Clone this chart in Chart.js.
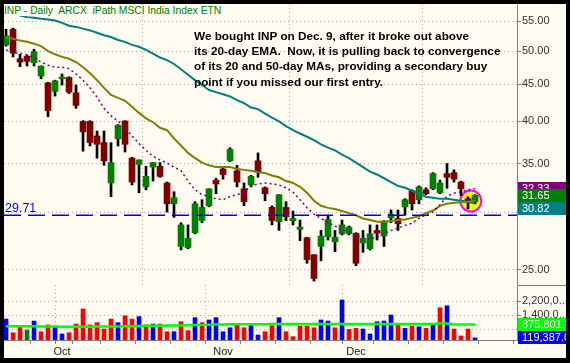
<!DOCTYPE html>
<html>
<head>
<meta charset="utf-8">
<script src="https://cdn.jsdelivr.net/npm/chart.js@4.4.1/dist/chart.umd.min.js"></script>
<style>
  html, body { margin: 0; padding: 0; background: #000; }
  #wrap { position: relative; width: 570px; height: 363px; background: #000; overflow: hidden; }
  canvas { position: absolute; background: #fffbf0; }
  #price { left: 4px; top: 4px; }
  #vol { left: 4px; top: 285px; }
  #title {
    position: absolute; left: 4px; top: 5px; height: 11px; line-height: 12px;
    padding-right: 3px; background: #fffbf0; color: #008000;
    font: 10.3px "Liberation Sans", Arial, sans-serif; white-space: pre;
  }
  #note {
    position: absolute; left: 194px; top: 28px; color: #000;
    font: bold 11.75px/15.2px "Liberation Sans", Arial, sans-serif; white-space: pre;
  }
</style>
</head>
<body>
<div id="wrap">
  <canvas id="price" width="562" height="281"></canvas>
  <canvas id="vol" width="562" height="73"></canvas>
  <div id="title">INP - Daily  ARCX  iPath MSCI India Index ETN</div>
  <div id="note">We bought INP on Dec. 9, after it broke out above
its 20-day EMA.  Now, it is pulling back to convergence
of its 20 and 50-day MAs, providing a secondary buy
point if you missed our first entry.</div>
</div>
<script>
// --- data (one entry per trading day, Sep 19 .. Dec 24) ---
const open  = [51.0, 53.6, 48.8, 49.2, 48.2, 46.2, 45.2, 44.0, 45.8, 46.0,
               43.8, 40.0, 40.0, 38.2, 37.4, 32.9, 37.85, 40.05, 35.6, 34.9,
               32.5, 34.6, 34.7, 32.9, 30.8, 26.9, 26.8, 28.1, 29.2, 30.6,
               33.2, 34.4, 35.3, 34.2, 32.3, 32.7, 35.3, 32.4, 30.45, 29.1,
               30.45, 29.2, 28.4, 27.65, 26.2, 26.9, 27.75, 27.3, 28.0, 28.0,
               28.05, 27.2, 26.7, 28.3, 27.8, 29.45, 29.4, 30.5, 32.1, 31.2,
               32.2, 32.3, 31.9, 33.9, 34.0, 33.0, 31.3, 31.0];
const high  = [53.6, 53.8, 49.5, 49.4, 50.3, 47.7, 45.3, 45.6, 46.5, 46.1,
               44.9, 40.1, 40.1, 38.8, 38.8, 37.4, 39.6, 40.1, 35.7, 35.4,
               34.7, 35.1, 35.1, 33.0, 32.0, 29.0, 28.8, 31.0, 31.2, 32.3,
               33.4, 34.5, 36.8, 34.8, 32.9, 33.7, 36.2, 32.5, 30.6, 31.7,
               31.0, 30.1, 29.25, 27.7, 26.2, 28.3, 29.7, 28.3, 29.25, 28.7,
               28.1, 28.3, 28.8, 28.8, 29.2, 30.2, 30.2, 31.3, 32.2, 32.6,
               32.4, 34.0, 33.2, 35.0, 34.3, 33.1, 31.5, 31.7];
const low   = [50.8, 49.1, 47.6, 47.7, 47.7, 45.8, 40.6, 43.35, 44.9, 43.7,
               41.7, 36.4, 37.0, 35.6, 34.8, 31.5, 37.0, 36.3, 32.7, 31.9,
               32.2, 33.1, 33.5, 30.0, 29.5, 26.6, 26.7, 28.0, 29.0, 30.5,
               31.8, 33.3, 35.2, 32.5, 30.6, 32.5, 33.5, 31.1, 28.8, 28.3,
               29.2, 28.8, 27.4, 25.5, 24.1, 25.7, 27.45, 26.45, 27.9, 27.9,
               25.3, 26.4, 26.6, 27.45, 26.9, 29.0, 28.3, 29.7, 30.2, 30.8,
               31.7, 32.2, 31.8, 32.35, 33.0, 31.6, 30.3, 30.8];
const close = [52.5, 49.7, 48.3, 48.4, 49.9, 47.7, 41.4, 45.5, 46.05, 43.9,
               42.1, 38.7, 37.4, 37.2, 35.3, 35.1, 39.5, 37.2, 33.0, 35.4,
               33.6, 35.1, 33.6, 30.8, 31.4, 28.8, 27.6, 30.8, 30.45, 32.3,
               32.8, 33.8, 36.6, 33.0, 31.0, 33.6, 34.1, 31.8, 29.2, 31.7,
               29.55, 29.4, 28.6, 25.8, 24.3, 27.8, 29.3, 27.7, 28.8, 28.6,
               25.5, 27.6, 28.0, 28.05, 29.15, 29.8, 28.9, 31.2, 30.8, 32.5,
               31.8, 33.9, 32.9, 33.5, 33.3, 32.3, 30.9, 31.65];

// 10-day MA (purple dashed), 20-day EMA (olive), 50-day MA (teal)
const ma10  = [50.2, 49.7, 49.7, 49.4, 49.0, 48.3, 47.8, 47.5, 47.5, 47.3,
               46.5, 45.6, 44.5, 43.2, 41.7, 40.7, 40.05, 39.2, 38.2, 37.3,
               36.5, 35.8, 35.4, 35.05, 34.6, 34.2, 33.1, 32.2, 31.7, 31.5,
               31.3, 31.2, 31.5, 31.7, 31.95, 32.6, 32.8, 32.9, 32.8, 32.7,
               32.4, 31.95, 31.2, 30.4, 29.8, 29.4, 29.0, 28.7, 28.4, 28.15,
               27.9, 27.6, 27.55, 27.7, 28.0, 28.3, 28.5, 28.75, 28.97, 29.4,
               29.75, 30.0, 30.7, 31.55, 31.85, 32.0, 32.2, 32.33];
const ema20 = [52.2, 52.0, 51.7, 51.5, 51.2, 50.8, 50.0, 49.5, 49.1, 48.8,
               48.3, 47.5, 46.6, 45.6, 44.5, 43.5, 43.1, 42.7, 41.9, 41.1,
               40.4, 39.9, 39.2, 38.9, 37.9, 37.05, 36.2, 35.6, 35.1, 34.8,
               34.6, 34.6, 34.6, 34.4, 34.3, 34.2, 34.05, 33.95, 33.7, 33.5,
               33.1, 32.9, 32.5, 31.9, 31.1, 30.6, 30.4, 30.3, 30.1, 29.9,
               29.7, 29.4, 29.25, 29.1, 29.1, 29.15, 29.25, 29.3, 29.45, 29.6,
               29.9, 30.15, 30.6, 30.8, 30.9, 30.95, 31.0, 31.1];
const ma50  = [57.2, 56.6, 56.0, 55.7, 55.6, 55.4, 55.3, 55.1, 54.7, 54.2,
               54.0, 53.7, 53.4, 53.0, 52.6, 52.3, 51.8, 51.5, 51.0, 50.7,
               50.2, 49.6, 49.0, 48.6, 48.0, 47.2, 46.4, 45.6, 44.9, 44.2,
               43.9, 43.6, 43.3, 42.8, 42.4, 41.8, 41.6, 41.0, 40.5, 40.0,
               39.4, 38.9, 38.5, 38.1, 37.7, 37.2, 36.8, 36.5, 36.0, 35.6,
               35.1, 34.6, 34.1, 33.8, 33.4, 33.0, 32.6, 32.4, 32.1, 31.8,
               31.5, 31.4, 31.3, 31.3, 31.2, 31.1, 31.0, 30.82];

const volume = [1180000, 410000, 790000, 560000, 1070000, 470000, 850000, 750000, 340000, 410000,
                900000, 1750000, 850000, 980000, 620000, 1180000, 980000, 1370000, 1180000, 1320000,
                850000, 900000, 900000, 470000, 470000, 1030000, 530000, 1260000, 980000, 1130000,
                1260000, 470000, 690000, 850000, 690000, 810000, 280000, 470000, 810000, 1260000,
                470000, 190000, 790000, 790000, 690000, 1130000, 1070000, 690000, 2260000, 600000,
                660000, 620000, 340000, 1030000, 1070000, 1410000, 900000, 660000, 790000, 750000,
                660000, 900000, 1820000, 1930000, 620000, 230000, 620000, 119387];
// 1 = closed up, -1 = closed down, 0 = unchanged
const volDir = [1, -1, -1, 0, 1, -1, -1, 1, 1, -1,
                -1, -1, -1, -1, -1, -1, 1, -1, -1, 1,
                -1, 1, -1, -1, 1, -1, -1, 1, -1, 1,
                1, 1, 1, -1, -1, 1, 1, -1, -1, 1,
                -1, -1, -1, -1, -1, 1, 1, -1, 1, -1,
                -1, 1, 1, 1, 1, 1, -1, 1, -1, 1,
                -1, 1, -1, 1, -1, -1, -1, 1];
const volAvg = [780000, 780000, 775000, 770000, 770000, 765000, 760000, 755000, 750000, 745000,
                745000, 750000, 750000, 755000, 755000, 760000, 765000, 770000, 780000, 790000,
                800000, 805000, 810000, 815000, 820000, 825000, 830000, 840000, 850000, 860000,
                870000, 880000, 885000, 890000, 890000, 895000, 895000, 895000, 900000, 900000,
                900000, 900000, 900000, 900000, 900000, 900000, 900000, 900000, 905000, 905000,
                900000, 900000, 900000, 900000, 900000, 900000, 900000, 900000, 900000, 900000,
                900000, 900000, 925000, 930000, 890000, 880000, 878000, 875801.7];

const support = 29.71;
const highlight = { x: 66.4, y: 31.07 };

const priceTicks  = [25, 30, 35, 40, 45, 50, 55];
const volumeTicks = [600000, 1400000, 2200000];
const weekTicks   = [1, 6, 11, 16, 21, 26, 31, 36, 41, 46, 50, 55, 60, 65, 70];
const monthTicks  = [8, 31, 50];
const monthLabels = ['Oct', 'Nov', 'Dec'];

// --- shared look ---
const FONT = '"Liberation Sans", Arial, sans-serif';
Chart.defaults.font.family = FONT;
Chart.defaults.font.size = 11;
Chart.defaults.color = '#333';

const xMin = -0.29, xMax = 73;
const priceMin = 23.8, priceMax = 58.07;
const volMax = 3103000;
const AXIS_W = 49;
const GRID = '#a8a8a8';
const AXIS = '#808080';

const pts = arr => arr.map((v, i) => ({ x: i, y: v }));
// keep the plot area flush with the canvas: no label overhang padding
const noPad = s => { s.paddingTop = 0; s.paddingBottom = 0; s.paddingLeft = 0; s.paddingRight = 0; };

// coloured value boxes on the right-hand axis
const sideBoxes = {
  id: 'sideBoxes',
  afterDraw(chart, args, opts) {
    const { ctx, chartArea } = chart;
    const y = chart.scales.y;
    let prevBottom = null;
    ctx.save();
    ctx.beginPath();
    ctx.rect(chartArea.right + 1, 0, chart.width - chartArea.right, chart.height);
    ctx.clip();
    ctx.font = '11px ' + FONT;
    ctx.textBaseline = 'middle';
    opts.boxes.forEach(b => {
      let top = Math.round(y.getPixelForValue(b.value) - 6.5);
      if (b.below && prevBottom !== null && top < prevBottom) top = prevBottom;
      ctx.fillStyle = b.color;
      ctx.fillRect(chartArea.right + 1, top, chart.width - chartArea.right, 13);
      ctx.fillStyle = '#fff';
      ctx.fillText(b.text, chartArea.right + 5, top + 7);
      prevBottom = top + 13;
    });
    ctx.restore();
  }
};

// label for the support line + separator between panels
const extras = {
  id: 'extras',
  afterDatasetsDraw(chart, args, opts) {
    const { ctx, chartArea } = chart;
    ctx.save();
    if (opts.supportLabel) {
      const yy = chart.scales.y.getPixelForValue(support);
      ctx.font = '12.5px ' + FONT;
      ctx.fillStyle = '#0000ee';
      ctx.textBaseline = 'alphabetic';
      ctx.fillText(support.toFixed(2), chartArea.left + 1, yy - 3);
    }
    if (opts.separator) {
      ctx.strokeStyle = AXIS;
      ctx.lineWidth = 1;
      ctx.beginPath();
      ctx.moveTo(chartArea.right, chartArea.top + 0.5);
      ctx.lineTo(chart.width, chartArea.top + 0.5);
      ctx.stroke();
    }
    ctx.restore();
  }
};

// --- price panel ---
new Chart(document.getElementById('price'), {
  type: 'bar',
  data: {
    datasets: [
      { type: 'line', data: [{ x: xMin, y: support }, { x: xMax, y: support }],
        borderColor: '#0000ee', borderWidth: 1.5, borderDash: [17, 7], pointRadius: 0, order: 1 },
      { type: 'line', data: pts(ma10), borderColor: '#800080', borderWidth: 1.5,
        borderDash: [2, 3], pointRadius: 0, order: 2 },
      { type: 'line', data: pts(ema20), borderColor: '#808000', borderWidth: 2, pointRadius: 0, order: 3 },
      { type: 'line', data: pts(ma50), borderColor: '#008080', borderWidth: 2, pointRadius: 0, order: 4 },
      { type: 'bar', data: open.map((o, i) => ({ x: i, y: [o, close[i]] })),
        backgroundColor: open.map((o, i) => close[i] >= o ? '#008000' : '#800000'),
        barThickness: 6, minBarLength: 1, grouped: false, borderWidth: 0, order: 5 },
      { type: 'bar', data: low.map((l, i) => ({ x: i, y: [l, high[i]] })),
        backgroundColor: '#000', barThickness: 2, grouped: false, borderWidth: 0, order: 6 },
      { type: 'line', data: [highlight], showLine: false, pointRadius: 10.5,
        pointBackgroundColor: '#ffff00', pointBorderColor: '#ff00ff', pointBorderWidth: 2, order: 7 }
    ]
  },
  options: {
    responsive: false,
    animation: false,
    layout: { padding: 0, autoPadding: false },
    plugins: {
      legend: { display: false },
      tooltip: { enabled: false },
      extras: { supportLabel: true },
      sideBoxes: {
        boxes: [
          { value: ma10[ma10.length - 1], color: '#800080', text: ma10[ma10.length - 1].toFixed(2) },
          { value: close[close.length - 1], color: '#008000', text: close[close.length - 1].toFixed(2) },
          { value: ma50[ma50.length - 1], color: '#008080', text: ma50[ma50.length - 1].toFixed(2), below: true }
        ]
      }
    },
    scales: {
      x: {
        type: 'linear', min: xMin, max: xMax, offset: false, bounds: 'data',
        afterBuildTicks: s => { s.ticks = monthTicks.map(v => ({ value: v })); },
        afterFit: s => { s.height = 0; noPad(s); },
        ticks: { display: false },
        grid: { color: GRID, drawTicks: false },
        border: { display: false, dash: [1, 3] }
      },
      y: {
        type: 'logarithmic', position: 'right', min: priceMin, max: priceMax, bounds: 'data',
        afterBuildTicks: s => { s.ticks = priceTicks.map(v => ({ value: v })); },
        afterFit: s => { s.width = AXIS_W; noPad(s); },
        ticks: { callback: v => Number(v).toFixed(2), padding: 1, autoSkip: false },
        grid: { color: GRID, tickLength: 4, tickColor: AXIS, tickBorderDash: [] },
        border: { color: AXIS, dash: [1, 3] }
      }
    }
  },
  plugins: [extras, sideBoxes]
});

// --- volume panel ---
const fmtBig = v => Number(v).toLocaleString('en-US');
new Chart(document.getElementById('vol'), {
  type: 'bar',
  data: {
    datasets: [
      { type: 'line', data: pts(volAvg), borderColor: '#00ff00', borderWidth: 2.5, pointRadius: 0, order: 1 },
      { type: 'bar', data: pts(volume),
        backgroundColor: volDir.map(d => d > 0 ? '#0000ff' : d < 0 ? '#ff0000' : '#008000'),
        barThickness: 4, grouped: false, borderWidth: 0, order: 2 }
    ]
  },
  options: {
    responsive: false,
    animation: false,
    layout: { padding: 0, autoPadding: false },
    plugins: {
      legend: { display: false },
      tooltip: { enabled: false },
      extras: { separator: true },
      sideBoxes: {
        boxes: [
          { value: volAvg[volAvg.length - 1], color: '#00ff00',
            text: fmtBig(volAvg[volAvg.length - 1].toFixed(1)) },
          { value: volume[volume.length - 1], color: '#0000ff',
            text: fmtBig(volume[volume.length - 1]) + '.00', below: true }
        ]
      }
    },
    scales: {
      x: {
        type: 'linear', min: xMin, max: xMax, offset: false, bounds: 'data',
        afterBuildTicks: s => {
          const all = Array.from(new Set(weekTicks.concat(monthTicks))).sort((a, b) => a - b);
          s.ticks = all.map(v => ({ value: v }));
        },
        afterFit: s => { s.height = 18; noPad(s); },
        ticks: {
          autoSkip: false, maxRotation: 0, padding: 1, color: '#222',
          callback: v => { const k = monthTicks.indexOf(v); return k >= 0 ? monthLabels[k] : ''; }
        },
        grid: {
          color: c => monthTicks.includes(c.tick && c.tick.value) ? GRID : 'rgba(0,0,0,0)',
          tickLength: 4, tickColor: AXIS, tickBorderDash: []
        },
        border: { color: AXIS, dash: [1, 3] }
      },
      y: {
        type: 'linear', position: 'right', min: 0, max: volMax, bounds: 'data',
        afterBuildTicks: s => { s.ticks = volumeTicks.map(v => ({ value: v })); },
        afterFit: s => { s.width = AXIS_W; noPad(s); },
        ticks: { callback: v => fmtBig(v).slice(0, 7) + '...', padding: 1, autoSkip: false },
        grid: { color: GRID, tickLength: 4, tickColor: AXIS, tickBorderDash: [] },
        border: { color: AXIS, dash: [1, 3] }
      }
    }
  },
  plugins: [extras, sideBoxes]
});
</script>
</body>
</html>
